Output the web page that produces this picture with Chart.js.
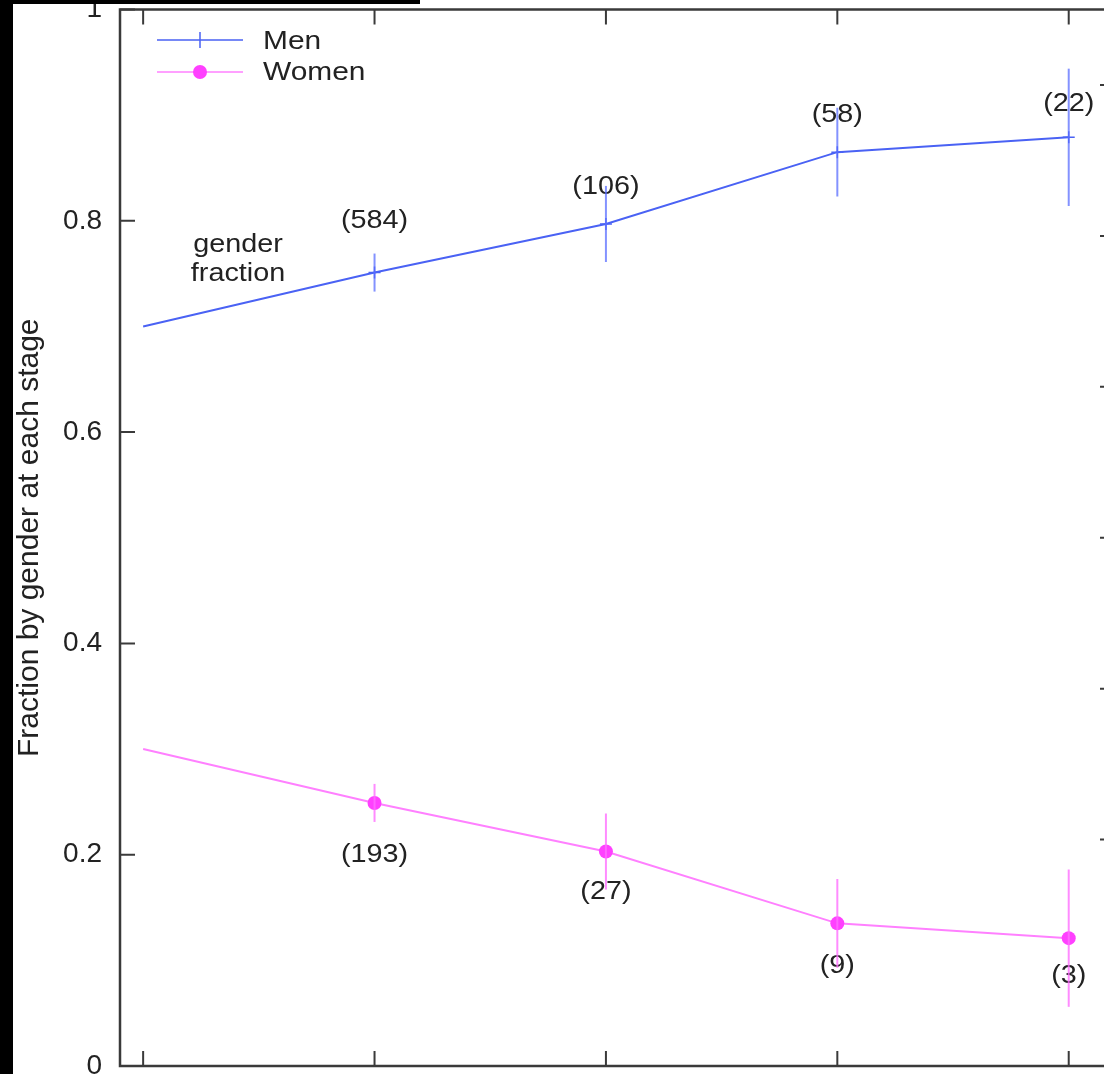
<!DOCTYPE html>
<html>
<head>
<meta charset="utf-8">
<script src="https://cdn.jsdelivr.net/npm/chart.js@4.4.1/dist/chart.umd.min.js"></script>
<style>
html,body{margin:0;padding:0;background:#fff;overflow:hidden;width:1104px;height:1074px;}
#wrap{position:relative;width:1104px;height:1074px;overflow:hidden;background:#fff;}
#grafica{position:absolute;left:0;top:0;}
.negro{position:absolute;background:#000;z-index:2;}
</style>
</head>
<body>
<div id="wrap">
  <canvas id="grafica" width="1130" height="1074"></canvas>
  <div class="negro" style="left:0;top:0;width:13px;height:1074px"></div>
  <div class="negro" style="left:0;top:0;width:420px;height:4px"></div>
</div>
<script>
// ================= DATOS =================
const etapas = [0, 1, 2, 3, 4];
const hombres = [0.700, 0.751, 0.797, 0.865, 0.879];
const mujeres = [0.300, 0.249, 0.203, 0.135, 0.121];
const errores = [0, 0.018, 0.036, 0.042, 0.065];
const cuentasHombres = ["", "(584)", "(106)", "(58)", "(22)"];
const cuentasMujeres = ["", "(193)", "(27)", "(9)", "(3)"];
const yCuentaHombres = [null, 0.800, 0.832, 0.900, 0.910];
const yCuentaMujeres = [null, 0.200, 0.165, 0.095, 0.085];
const ticksY = [0, 0.2, 0.4, 0.6, 0.8, 1];
const etiquetasY = ["0", "0.2", "0.4", "0.6", "0.8", "1"];
const ticksX = [0, 1, 2, 3, 4];
const ticksDerecha = [1.5, 2.5, 3.5, 4.5, 5.5, 6.5];
const notaTexto = ["gender", "fraction"];
const notaX = 0.41;
const notaY = [0.777, 0.750];

// ================= ESTILOS =================
const AZUL = "#4a62f4";
const AZUL_ERR = "rgba(90,110,255,0.75)";
const ROSA = "#ff80ff";
const ROSA_PUNTO = "#ff40ff";
const ROSA_ERR = "rgba(255,110,255,0.8)";
const EJE = "#3a3a3a";
const TEXTO = "#222";
const FUENTE = '"Liberation Sans", Arial, sans-serif';

function texto(ctx, str, x, y, size, align){
  ctx.save();
  ctx.translate(x, y);
  ctx.scale(1.15, 1);
  ctx.font = size + "px " + FUENTE;
  ctx.textAlign = align || "center";
  ctx.textBaseline = "middle";
  ctx.fillStyle = TEXTO;
  ctx.fillText(str, 0, 0);
  ctx.restore();
}

function puntos(serie){
  return etapas.map((e, i) => ({x: e, y: serie[i]}));
}

// ================= PLUGIN: etiquetas, barras de error, marco =================
const decoracion = {
  id: "decoracion",
  beforeDatasetsDraw(chart){
    const {ctx} = chart;
    const sx = chart.scales.x, sy = chart.scales.y;
    // conteos
    etapas.forEach((e, i) => {
      if(cuentasHombres[i]) texto(ctx, cuentasHombres[i], sx.getPixelForValue(e), sy.getPixelForValue(yCuentaHombres[i]), 25);
      if(cuentasMujeres[i]) texto(ctx, cuentasMujeres[i], sx.getPixelForValue(e), sy.getPixelForValue(yCuentaMujeres[i]), 25);
    });
    // nota
    notaTexto.forEach((t, i) => texto(ctx, t, sx.getPixelForValue(notaX), sy.getPixelForValue(notaY[i]), 25));
  },
  afterDatasetsDraw(chart){
    const {ctx, chartArea: a} = chart;
    const sx = chart.scales.x, sy = chart.scales.y, sy2 = chart.scales.y2;

    // barras de error
    const series = [[hombres, AZUL_ERR], [mujeres, ROSA_ERR]];
    ctx.save();
    ctx.lineWidth = 2;
    series.forEach(([serie, color]) => {
      ctx.strokeStyle = color;
      etapas.forEach((e, i) => {
        if(!errores[i]) return;
        const x = sx.getPixelForValue(e);
        ctx.beginPath();
        ctx.moveTo(x, sy.getPixelForValue(serie[i] - errores[i]));
        ctx.lineTo(x, sy.getPixelForValue(serie[i] + errores[i]));
        ctx.stroke();
      });
    });
    ctx.restore();

    // marco y marcas hacia dentro
    ctx.save();
    ctx.strokeStyle = EJE;
    ctx.lineWidth = 2.5;
    ctx.strokeRect(a.left, a.top, a.right - a.left, a.bottom - a.top);
    ctx.lineWidth = 2;
    ctx.beginPath();
    ticksY.forEach(v => {
      const y = sy.getPixelForValue(v);
      ctx.moveTo(a.left, y); ctx.lineTo(a.left + 15, y);
    });
    ticksDerecha.forEach(v => {
      const y = sy2.getPixelForValue(v);
      ctx.moveTo(a.right, y); ctx.lineTo(a.right - 15, y);
    });
    ticksX.forEach(v => {
      const x = sx.getPixelForValue(v);
      ctx.moveTo(x, a.bottom); ctx.lineTo(x, a.bottom - 15);
      ctx.moveTo(x, a.top); ctx.lineTo(x, a.top + 15);
    });
    ctx.stroke();
    ctx.restore();

    // leyenda
    ctx.save();
    ctx.lineWidth = 1.5;
    ctx.strokeStyle = AZUL;
    ctx.beginPath();
    ctx.moveTo(157, 40); ctx.lineTo(243, 40);
    ctx.moveTo(200, 32); ctx.lineTo(200, 48);
    ctx.stroke();
    ctx.strokeStyle = ROSA;
    ctx.beginPath();
    ctx.moveTo(157, 72); ctx.lineTo(243, 72);
    ctx.stroke();
    ctx.fillStyle = ROSA_PUNTO;
    ctx.beginPath();
    ctx.arc(200, 72, 7, 0, Math.PI * 2);
    ctx.fill();
    ctx.restore();
    texto(ctx, "Men", 263, 42, 26, "left");
    texto(ctx, "Women", 263, 73, 26, "left");
  }
};

// ================= GRAFICA =================
const ctx = document.getElementById("grafica").getContext("2d");
new Chart(ctx, {
  type: "line",
  data: {
    datasets: [
      {
        label: "Men",
        data: puntos(hombres),
        borderColor: AZUL,
        borderWidth: 2,
        pointStyle: "cross",
        pointRadius: [0, 6, 6, 6, 6],
        pointBorderWidth: 1.5,
        pointBorderColor: AZUL,
        tension: 0
      },
      {
        label: "Women",
        data: puntos(mujeres),
        borderColor: ROSA,
        borderWidth: 2,
        pointStyle: "circle",
        pointRadius: [0, 7, 7, 7, 7],
        pointBorderWidth: 0,
        pointBackgroundColor: ROSA_PUNTO,
        tension: 0
      }
    ]
  },
  options: {
    responsive: false,
    animation: false,
    devicePixelRatio: 1,
    layout: {padding: {left: 0, right: 15, top: 9.5, bottom: 8}},
    plugins: {legend: {display: false}, tooltip: {enabled: false}},
    scales: {
      x: {type: "linear", min: -0.1, max: 4.2, display: false},
      y: {
        min: 0, max: 1,
        afterBuildTicks: s => { s.ticks = ticksY.map(v => ({value: v})); },
        afterFit: s => { s.width = 120; s.paddingTop = 0; s.paddingBottom = 0; },
        ticks: {
          color: TEXTO, padding: 18, font: {family: FUENTE, size: 28},
          callback: (v, i) => etiquetasY[i]
        },
        grid: {drawOnChartArea: false, drawTicks: false},
        border: {display: false},
        title: {
          display: true,
          text: "Fraction by gender at each stage",
          color: TEXTO,
          font: {family: FUENTE, size: 30},
          padding: {top: 12, bottom: 0}
        }
      },
      y2: {
        position: "right", min: 0, max: 7, display: false,
        afterBuildTicks: s => { s.ticks = ticksDerecha.map(v => ({value: v})); }
      }
    }
  },
  plugins: [decoracion]
});
</script>
</body>
</html>
